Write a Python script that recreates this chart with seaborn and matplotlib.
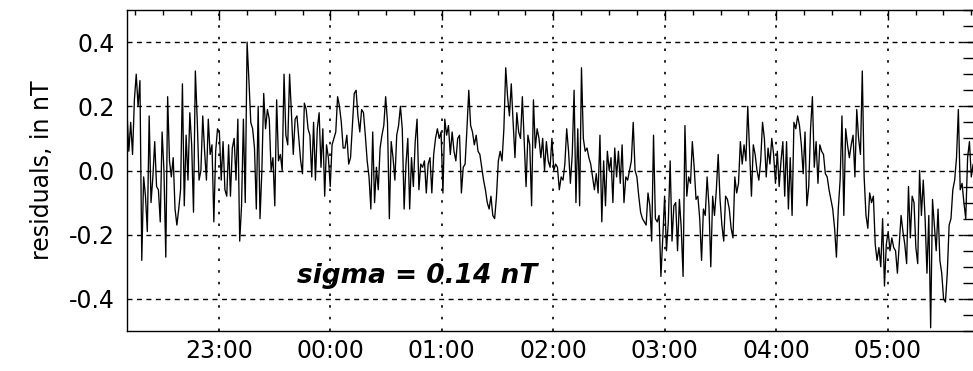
import numpy as np
import pandas as pd
import matplotlib
matplotlib.use("Agg")
import matplotlib.pyplot as plt
import matplotlib.dates as mdates
from matplotlib.ticker import MultipleLocator, FormatStrFormatter
import seaborn as sns

# ---- data: residuals (nT), 1-minute samples, in time blocks ----
res_block1 = [0.18, 0.06, 0.15, 0.05, 0.22, 0.30, 0.20, 0.28, -0.28, -0.02,
              -0.08, -0.19, 0.17, -0.10, -0.02, 0.09, -0.05, -0.06, -0.16, 0.12,
              0.00, -0.27, 0.23, 0.03, -0.02, 0.04, -0.12, -0.17, -0.12, -0.06,
              0.27, -0.11, 0.11, -0.03, 0.18, 0.08, -0.13, 0.31, 0.16, -0.03,
              0.00, 0.17, 0.06, -0.03, 0.16, 0.05, 0.08, -0.16, 0.06, 0.13]
res_block2 = [0.12, -0.03, 0.09, -0.06, -0.08, 0.08, -0.08, 0.07, 0.10, -0.03,
              0.16, -0.22, -0.11, 0.16, -0.10, 0.40, 0.28, 0.15, 0.13, 0.07,
              -0.12, 0.20, -0.15, 0.00, 0.24, 0.13, 0.19, 0.16, 0.00, 0.04,
              -0.11, 0.22, 0.03, 0.05, 0.00, 0.30, 0.11, 0.08, 0.30, 0.18,
              0.05, 0.16, 0.17, 0.10, 0.03, -0.01, 0.21, 0.19, 0.13, 0.11, -0.02]
res_block3 = [0.15, -0.03, 0.13, 0.18, 0.01, 0.13, -0.08, 0.08, 0.04, -0.05,
              0.08, 0.10, 0.12, 0.23, 0.20, 0.15, 0.07, 0.07, 0.11, 0.02,
              0.04, 0.14, 0.24, 0.25, 0.17, 0.12, 0.19, 0.18, 0.11, 0.03,
              -0.02, -0.12, 0.12, -0.10, 0.01, -0.06, 0.07, 0.11, 0.14, 0.23,
              0.15, -0.15, 0.09, 0.04, -0.03, 0.11, 0.14, 0.20, 0.13, -0.12, 0.02]
res_block4 = [0.10, -0.12, 0.04, -0.05, 0.09, 0.16, -0.06, 0.02, 0.01, 0.03,
              -0.07, 0.02, 0.04, -0.07, 0.05, 0.10, 0.13, 0.10, 0.12, -0.07,
              0.16, 0.11, 0.14, 0.05, 0.12, 0.06, 0.03, 0.10, 0.11, -0.07,
              0.01, 0.02, 0.13, 0.25, 0.14, 0.12, 0.08, 0.11, 0.06, 0.05,
              0.01, -0.03, -0.06, -0.10, -0.12, -0.08, -0.14, -0.15, -0.08, 0.03, 0.06]
res_block5 = [0.03, 0.13, 0.32, 0.23, 0.17, 0.27, 0.15, 0.04, 0.18, 0.12,
              0.10, 0.23, 0.09, -0.05, 0.11, 0.08, -0.11, 0.22, 0.07, 0.13,
              0.10, 0.04, 0.10, 0.00, 0.09, 0.03, 0.01, 0.10, 0.00, 0.02,
              0.01, -0.06, -0.02, -0.03, 0.02, 0.13, 0.06, -0.04, 0.05, 0.25,
              -0.10, 0.13, -0.11, 0.32, 0.10, 0.06, 0.07, 0.04, 0.02, -0.02, -0.06]
res_block6 = [-0.01, -0.07, 0.11, -0.16, 0.03, -0.11, 0.06, 0.00, 0.04, -0.10,
              0.07, -0.02, 0.06, -0.04, 0.08, -0.10, -0.02, -0.03, 0.00, 0.03,
              0.15, 0.00, -0.02, -0.08, -0.13, -0.15, -0.16, -0.17, -0.07, -0.11,
              -0.22, 0.11, -0.15, -0.16, -0.14, -0.33, -0.21, -0.08, -0.25, -0.16,
              0.03, -0.22, -0.11, -0.10, -0.25, -0.09, -0.18, -0.33, 0.14, -0.08, -0.02]
res_block7 = [-0.04, 0.09, 0.01, -0.09, -0.08, -0.15, -0.28, -0.12, -0.14, -0.02,
              -0.11, -0.30, -0.08, -0.14, -0.06, 0.05, -0.09, -0.17, -0.22, -0.08,
              -0.09, -0.12, -0.18, -0.21, -0.02, -0.07, -0.04, 0.09, 0.02, 0.08,
              0.03, 0.20, 0.06, -0.08, 0.08, 0.05, 0.00, -0.03, 0.03, 0.15,
              0.10, -0.02, 0.07, 0.02, 0.10, 0.05, -0.04, 0.06, -0.05, 0.03, 0.09]
res_block8 = [-0.08, 0.09, -0.12, 0.04, -0.14, 0.15, 0.13, 0.17, 0.14, 0.08,
              -0.01, 0.12, -0.11, -0.05, 0.13, 0.23, 0.01, 0.09, -0.04, 0.08,
              0.06, 0.05, -0.01, -0.02, -0.06, -0.09, -0.12, -0.18, -0.27, -0.12,
              -0.03, 0.17, -0.14, 0.13, 0.08, 0.04, 0.08, 0.11, -0.02, 0.19,
              0.10, 0.05, 0.31, -0.02, -0.14, -0.18, -0.07, -0.10, -0.08, -0.23, -0.28]
res_block9 = [-0.24, -0.30, -0.15, -0.36, -0.23, -0.19, -0.25, -0.21, -0.24, -0.25,
              -0.32, -0.23, -0.14, -0.19, -0.23, -0.29, -0.05, -0.21, -0.08, -0.10,
              -0.24, -0.29, 0.00, -0.14, -0.03, -0.15, -0.32, -0.14, -0.49, -0.09,
              -0.17, -0.25, -0.12, -0.28, -0.32, -0.40, -0.41, -0.32, -0.17, -0.15,
              -0.06, -0.03, 0.04, 0.19, -0.06, -0.04, -0.10, -0.15, 0.04, 0.09, -0.02, 0.02]

series_start = "2000-01-01 22:10:30"
series_end = "2000-01-02 05:46:00"
y_ticks = [-0.4, -0.2, 0.0, 0.2, 0.4]
annotation = "sigma = 0.14 nT"
y_label = "residuals, in nT"

residuals = np.concatenate([res_block1, res_block2, res_block3, res_block4, res_block5,
                            res_block6, res_block7, res_block8, res_block9])
times = pd.date_range(series_start, series_end, periods=len(residuals))
df = pd.DataFrame({"time": times, "residual": residuals})

# ---- style ----
sns.set_theme(style="white")
plt.rcParams["font.family"] = ["DejaVu Sans"]
plt.rcParams["axes.unicode_minus"] = False

fig = plt.figure(figsize=(9.73, 3.71), dpi=100)
fig.patch.set_facecolor("white")
ax = fig.add_axes([127 / 973, 1 - 331 / 371, 848 / 973, 321 / 371])
ax.set_facecolor("white")

sns.lineplot(data=df, x="time", y="residual", color="black", linewidth=0.95, ax=ax,
             zorder=3)

ax.set_xlim(pd.Timestamp("2000-01-01 22:10:30"), pd.Timestamp("2000-01-02 05:47:00"))
ax.set_ylim(-0.5, 0.5)

ax.set_yticks(y_ticks)
ax.yaxis.set_major_formatter(FormatStrFormatter("%.1f"))
ax.yaxis.set_minor_locator(MultipleLocator(0.05))
ax.xaxis.set_major_locator(mdates.HourLocator())
ax.xaxis.set_major_formatter(mdates.DateFormatter("%H:%M"))
ax.xaxis.set_minor_locator(mdates.MinuteLocator(byminute=[15, 30, 45]))

ax.grid(False)
ax.yaxis.grid(True, which="major", linestyle=(0, (3.6, 3.2)), color="black", linewidth=1.0)
ax.xaxis.grid(True, which="major", linestyle=(0, (1.5, 5.5)), color="black", linewidth=1.2)

ax.tick_params(axis="both", which="both", direction="in", top=True, right=True,
               colors="black", labelsize=17, width=1.0)
ax.tick_params(axis="y", which="both", length=8.6, pad=8.6)
ax.tick_params(axis="x", which="major", length=7, pad=6)
ax.tick_params(axis="x", which="minor", length=3.6)

for sp in ax.spines.values():
    sp.set_visible(True)
    sp.set_color("black")
    sp.set_linewidth(1.0)

ax.set_xlabel("")
ax.set_ylabel(y_label, fontsize=17, color="black", labelpad=11)

ax.text(0.2, 0.15, annotation, transform=ax.transAxes, fontsize=19,
        fontweight="bold", fontstyle="italic", ha="left", va="baseline",
        color="black", zorder=4)

fig.savefig("out.png", dpi=100, facecolor="white")
